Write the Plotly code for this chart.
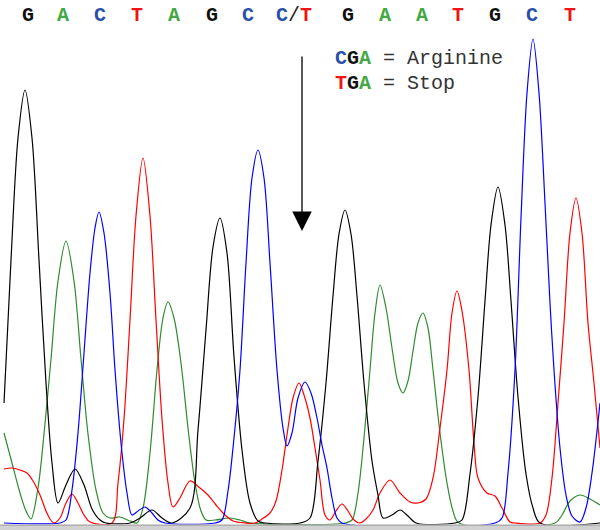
import plotly.graph_objects as go

# ---- data: trace intensity (scan position, signal) ----
G_X = [4, 11, 18, 25, 32, 39, 46, 52, 58, 66, 75, 84, 92, 100, 106, 130, 140, 152, 162, 172,
       190, 198, 206, 213, 220, 227, 234, 242, 250, 258, 265,
       300, 310, 318, 326, 333, 339, 345, 351, 357, 364, 372, 378, 383, 392, 400, 408, 416,
       455, 462, 470, 478, 485, 491, 498, 505, 511, 518, 526, 533, 540, 600]
G_Y = [120, 263, 385, 433, 385, 263, 140, 60, 20, 38, 54, 38, 14, 3, 0, 0, 5, 13, 5, 0,
       15, 93, 193, 276, 305, 270, 166, 73, 20, 2, 0,
       0, 5, 62, 140, 227, 289, 313, 289, 227, 140, 62, 28, 5, 8, 13, 7, 0,
       0, 3, 49, 126, 222, 298, 336, 298, 222, 126, 49, 15, 0, 0]

A_X = [4, 12, 20, 26, 31, 38, 44, 51, 58, 66, 74, 81, 88, 96, 103, 110, 120, 130, 137,
       143, 150, 157, 163, 168, 174, 181, 188, 195, 201, 206, 215, 230, 240, 250,
       345, 352, 358, 364, 370, 375, 380, 386, 392, 398, 403, 408, 413, 418, 423, 428, 433,
       440, 447, 453, 459, 555, 562, 570, 580, 590, 600]
A_Y = [90, 60, 30, 12, 4, 35, 89, 164, 242, 282, 242, 164, 89, 33, 10, 5, 6, 2, 0,
       15, 70, 153, 205, 221, 205, 160, 95, 40, 12, 3, 3, 5, 3, 0,
       0, 3, 30, 85, 153, 210, 238, 215, 175, 140, 130, 142, 172, 200, 210, 195, 153,
       90, 40, 12, 0, 0, 8, 22, 28, 24, 18]

T_X = [4, 12, 20, 27, 33, 40, 46, 50, 54, 60, 66, 72, 78, 84, 90, 112,
       118, 124, 130, 136, 143, 150, 156, 162, 168, 173, 180, 190, 200, 208, 216, 225, 233, 245, 255,
       262, 270, 276, 282, 288, 293, 299, 304, 310, 315, 320, 325, 330, 336, 342, 348, 354, 360,
       366, 373, 380, 390, 400, 410, 418, 426, 433, 440, 447, 452, 457, 462, 469, 474, 478,
       487, 495, 502, 510, 515, 540, 546, 552, 558, 564, 570, 576, 582, 588, 594, 600]
T_Y = [54, 55, 53, 50, 42, 28, 12, 4, 0, 5, 20, 29, 20, 8, 1, 0,
       40, 104, 203, 307, 365, 307, 203, 104, 40, 16, 25, 42, 35, 28, 18, 8, 2, 0, 0,
       4, 10, 22, 53, 95, 125, 140, 128, 105, 75, 43, 8, 3, 12, 19, 12, 3, 0,
       4, 13, 30, 43, 30, 21, 20, 24, 45, 95, 153, 210, 232, 212, 153, 80, 45,
       30, 27, 15, 1, 0, 0, 8, 45, 120, 200, 290, 325, 290, 200, 140, 75]

C_X = [4, 60, 66, 72, 78, 84, 90, 95, 99, 104, 110, 115, 121, 127, 132, 138, 145, 152, 158, 165,
       215, 222, 228, 234, 240, 246, 252, 258, 264, 270, 277, 283, 287, 292, 298, 305,
       311, 317, 322, 327, 332, 337, 342,
       495, 502, 508, 515, 521, 527, 533, 539, 545, 550, 554, 560, 566, 572, 580, 586, 592, 600]
C_Y = [0, 0, 3, 33, 90, 170, 250, 295, 311, 290, 230, 153, 80, 30, 8, 12, 16, 10, 3, 0,
       0, 3, 32, 85, 153, 260, 345, 373, 345, 260, 153, 95, 77, 90, 125, 141,
       130, 105, 78, 55, 25, 5, 0,
       0, 5, 50, 153, 305, 430, 484, 430, 320, 220, 153, 75, 28, 7, 1, 15, 50, 120]

BASES = ["G", "A", "C", "T", "A", "G", "C", "C/T", "G", "A", "A", "T", "G", "C", "T"]
BASE_POS = [28, 63, 100, 137, 174, 212, 248, 294, 348, 385, 422, 458, 495, 532, 570]

COL = {"G": "#111111", "A": "#44a844", "C": "#2a4fa6", "T": "#f01414"}
TRACE_COL = {"G": "#000000", "A": "#2e8b2e", "C": "#0000ff", "T": "#ff0000"}

MUT_POS = 302
FONT = "Liberation Mono, Courier New, monospace"

fig = go.Figure()
for name, xs, ys in [("A", A_X, A_Y), ("T", T_X, T_Y), ("G", G_X, G_Y), ("C", C_X, C_Y)]:
    fig.add_trace(go.Scatter(x=xs, y=ys, mode="lines",
                             line=dict(color=TRACE_COL[name], width=1.2, shape="spline", smoothing=0.9),
                             hoverinfo="skip", showlegend=False))

ann = []
for b, x in zip(BASES, BASE_POS):
    if b == "C/T":
        txt = ("<span style='color:%s'>C</span><span style='color:#222;font-weight:normal'>/</span>"
               "<span style='color:%s'>T</span>") % (COL["C"], COL["T"])
    else:
        txt = "<span style='color:%s'>%s</span>" % (COL[b], b)
    ann.append(dict(x=x, y=1 - 16 / 530, xref="x", yref="paper", text="<b>" + txt + "</b>",
                    showarrow=False, font=dict(family=FONT, size=20), xanchor="center", yanchor="middle"))

def codon(c):
    return "".join("<b><span style='color:%s'>%s</span></b>" % (COL[ch], ch) for ch in c)

ann.append(dict(x=333, y=1 - 59 / 530, xref="x", yref="paper",
                text=codon("CGA") + "<span style='color:#333'> = Arginine</span>",
                showarrow=False, font=dict(family=FONT, size=20), xanchor="left", yanchor="middle"))
ann.append(dict(x=333, y=1 - 84 / 530, xref="x", yref="paper",
                text=codon("TGA") + "<span style='color:#333'> = Stop</span>",
                showarrow=False, font=dict(family=FONT, size=20), xanchor="left", yanchor="middle"))

# arrow marking the mutated position
ann.append(dict(x=MUT_POS, y=292, xref="x", yref="y", ax=MUT_POS, ay=468, axref="x", ayref="y",
                text="", showarrow=True, arrowhead=2, arrowsize=3, arrowwidth=1.3, arrowcolor="#000"))

fig.update_layout(
    width=600, height=530, margin=dict(l=0, r=0, t=0, b=0),
    paper_bgcolor="white", plot_bgcolor="white",
    xaxis=dict(range=[0, 600], visible=False, fixedrange=True),
    yaxis=dict(range=[-7, 523], visible=False, fixedrange=True),
    annotations=ann,
    shapes=[dict(type="rect", xref="paper", yref="y", x0=0, x1=1, y0=-7, y1=-1.6,
                 fillcolor="#d2d2d2", line=dict(width=0), layer="above"),
            dict(type="line", xref="paper", yref="y", x0=0, x1=1, y0=-2.2, y1=-2.2,
                 line=dict(color="#a0a0a0", width=1), layer="above")],
)

fig.write_html("out.html", config={"displayModeBar": False},
               post_script="document.body.style.margin='0';document.body.style.overflow='hidden';")
